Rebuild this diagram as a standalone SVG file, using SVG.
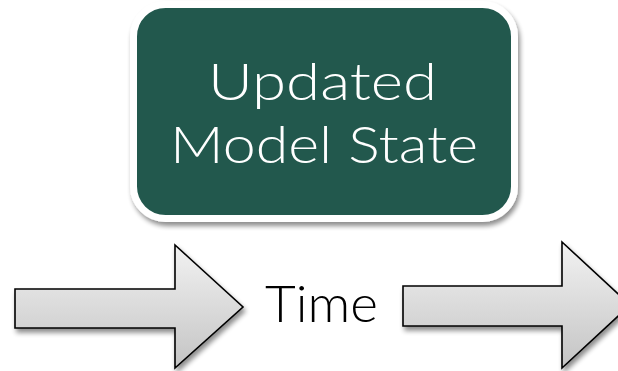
<svg xmlns="http://www.w3.org/2000/svg" width="618" height="371" viewBox="0 0 618 371">
<style>
.lbl{font-family:Lato,"Open Sans","Liberation Sans",sans-serif;font-weight:300;font-size:52px}
.arrow{fill:url(#g);stroke:#000;stroke-width:1.6;filter:url(#sh)}
</style>
<defs>
<linearGradient id="g" x1="0" y1="0" x2="0" y2="1">
<stop offset="0" stop-color="#f2f2f2"/>
<stop offset="1" stop-color="#c4c4c4"/>
</linearGradient>
<filter id="sh" x="-10%" y="-10%" width="130%" height="140%">
<feGaussianBlur in="SourceAlpha" stdDeviation="2.5"/>
<feOffset dx="2" dy="4" result="b"/>
<feComponentTransfer><feFuncA type="linear" slope="0.45"/></feComponentTransfer>
<feMerge><feMergeNode/><feMergeNode in="SourceGraphic"/></feMerge>
</filter>
</defs>
<g id="state">
<rect x="133.5" y="4.5" width="381" height="214" rx="32" fill="#22584e" stroke="#fff" stroke-width="7" filter="url(#sh)"/>
<text class="lbl" x="208" y="100" textLength="229" lengthAdjust="spacingAndGlyphs" fill="#fff">Updated</text>
<text class="lbl" x="170" y="163" textLength="308" lengthAdjust="spacingAndGlyphs" fill="#fff">Model State</text>
</g>
<g id="connectors">
<path class="arrow" d="M15,289 H175 V245 L243,307 L175,368 V328 H15 Z"/>
<path class="arrow" d="M403,286 H562 V242 L630,305 L562,368 V326 H403 Z"/>
</g>
<g id="time">
<text class="lbl" x="265" y="322" textLength="113" lengthAdjust="spacingAndGlyphs" fill="#000">Time</text>
</g>
</svg>
